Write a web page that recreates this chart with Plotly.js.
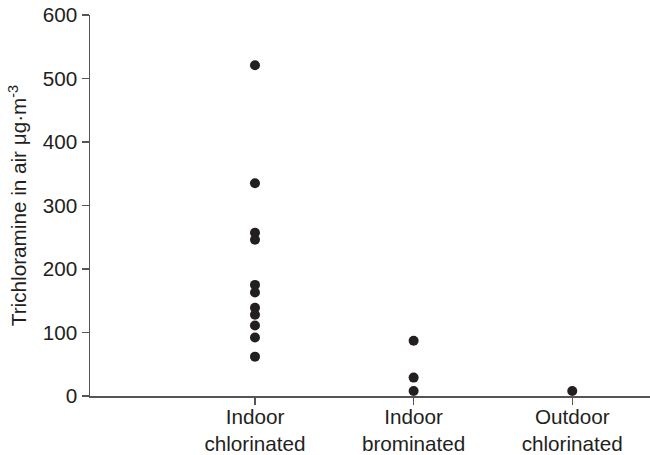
<!DOCTYPE html>
<html>
<head>
<meta charset="utf-8">
<script src="https://cdn.plot.ly/plotly-3.0.1.min.js"></script>
<style>html,body{margin:0;padding:0;background:#fff;}#chart{width:650px;height:455px;}</style>
</head>
<body>
<div id="chart"></div>
<script>
const categories = ["Indoor<br>chlorinated", "Indoor<br>brominated", "Outdoor<br>chlorinated"];
const indoorChlorinated = [521, 335, 257, 246, 175, 163, 139, 128, 111, 92, 62];
const indoorBrominated = [87, 29, 8];
const outdoorChlorinated = [8];
const yTickValues = [0, 100, 200, 300, 400, 500, 600];

const groups = [indoorChlorinated, indoorBrominated, outdoorChlorinated];
const xs = [], ys = [];
groups.forEach((g, i) => g.forEach(v => { xs.push(categories[i]); ys.push(v); }));

const trace = {
  type: "scatter", mode: "markers", x: xs, y: ys,
  marker: {color: "#231f20", size: 10},
  cliponaxis: false, hoverinfo: "skip"
};

const font = {family: "Liberation Sans, Arial, Helvetica, sans-serif", size: 20.7, color: "#231f20"};

const layout = {
  width: 650, height: 455,
  margin: {l: 90, r: 0, t: 15, b: 59},
  paper_bgcolor: "#fff", plot_bgcolor: "#fff",
  font: font,
  showlegend: false,
  xaxis: {
    type: "category", categoryorder: "array", categoryarray: categories,
    range: [-1.04, 2.49],
    showgrid: false, zeroline: false,
    showline: true, linecolor: "#555", linewidth: 1.5,
    ticks: "outside", ticklen: 7, tickcolor: "#555", tickwidth: 1.5,
    ticklabelstandoff: -5,
    tickfont: font, fixedrange: true
  },
  yaxis: {
    range: [0, 600], tickvals: yTickValues,
    showgrid: false, zeroline: false,
    showline: true, linecolor: "#555", linewidth: 1.5,
    ticks: "outside", ticklen: 7, tickcolor: "#555", tickwidth: 1.5,
    tickfont: font,
    title: {text: "Trichloramine in air μg·m<sup>-3</sup>", font: font, standoff: 10},
    fixedrange: true
  }
};

Plotly.newPlot("chart", [trace], layout, {displayModeBar: false, staticPlot: true});
</script>
</body>
</html>
